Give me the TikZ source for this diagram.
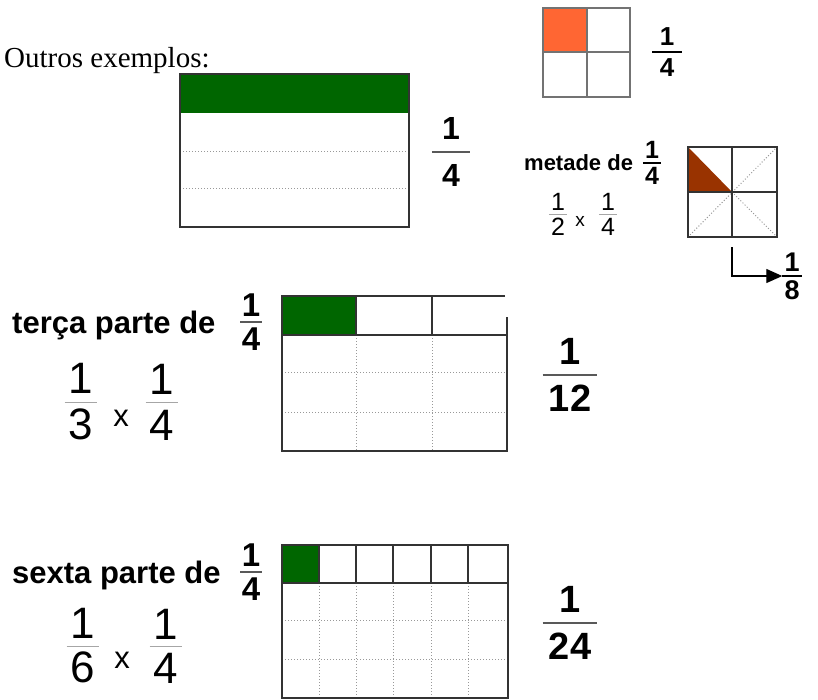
\documentclass[tikz,border=0pt]{standalone}
\usepackage{fontspec}
\setmainfont{Liberation Serif}
\setsansfont{Liberation Sans}
\usetikzlibrary{arrows.meta}
\definecolor{leafgreen}{HTML}{006600}
\definecolor{tileorange}{HTML}{FF6633}
\definecolor{rust}{HTML}{993300}
\tikzset{
  bfrac/.style 2 args={font=\sffamily\bfseries\fontsize{#1}{#2}\selectfont, align=center, inner ysep=0pt},
  rfrac/.style 2 args={font=\sffamily\fontsize{#1}{#2}\selectfont, align=center, inner ysep=0pt, inner xsep=4pt},
  words/.style={font=\sffamily\bfseries\fontsize{#1}{#1}\selectfont, anchor=base west, inner sep=0pt},
  times/.style={font=\sffamily\fontsize{#1}{#1}\selectfont, inner sep=0pt},
  fbar/.style={draw=black!65, line width=1.5pt},
  thinbar/.style={draw=gray!70, line width=1pt},
  cell/.style={draw=black!80, line width=1.6pt},
  softcell/.style={draw=black!55, line width=1.6pt},
  sub/.style={draw=gray!80, dotted, line width=1pt}
}
\begin{document}
\begin{tikzpicture}[x=1pt, y=-1pt]
  \useasboundingbox (0,0) rectangle (818,699);
  \node [anchor=base west, inner sep=0pt, font=\fontsize{29}{29}\selectfont] (title) at (4,67) {Outros exemplos:};

  \fill [tileorange] (543,8) rectangle (587,52);
  \draw [softcell] (543,8) rectangle (630,97);
  \draw [softcell] (587,8) -- (587,97);
  \draw [softcell] (543,52) -- (630,52);
  \node [bfrac={26}{31}, inner xsep=7.5pt] (q1) at (667,52) {1\\4};
  \draw [fbar, draw=black] (q1.west) -- (q1.east);

  \fill [leafgreen] (180,74) rectangle (409,113);
  \draw [sub] (180,151) -- (409,151);
  \draw [sub] (180,188) -- (409,188);
  \draw [cell] (180,74) rectangle (409,227);
  \node [bfrac={32}{47}, inner xsep=10pt] (g1) at (451,152) {1\\4};
  \draw [fbar] (g1.west) -- (g1.east);

  \node [words=22] (half) at (524,170) {metade de};
  \node [bfrac={25}{26}, inner xsep=2pt] (h1) at (652,163) {1\\4};
  \draw [fbar, draw=black] (h1.west) -- (h1.east);
  \node [rfrac={25}{25}, inner xsep=2pt] (h2) at (558,214) {1\\2};
  \draw [thinbar] (h2.west) -- (h2.east);
  \node [times=19] (hx) at (580,221) {x};
  \node [rfrac={25}{25}, inner xsep=2pt] (h3) at (608,214) {1\\4};
  \draw [thinbar] (h3.west) -- (h3.east);
  \fill [rust] (688,147) -- (688,192) -- (732,192) -- cycle;
  \draw [sub] (688,237) -- (777,147);
  \draw [sub] (732,192) -- (777,237);
  \draw [cell] (688,147) rectangle (777,237);
  \draw [cell] (732,147) -- (732,237);
  \draw [cell] (688,192) -- (777,192);
  \coordinate (drop) at (732,247);
  \node [bfrac={27}{28}, inner xsep=2pt] (e1) at (792,276) {1\\8};
  \draw [fbar, draw=black] (e1.west) -- (e1.east);
  \draw [black, line width=1.2pt, -{Triangle[length=16pt, width=14pt]}] (drop) |- (e1.west);

  \node [words=31] (third) at (12,333) {terça parte de};
  \node [bfrac={33}{34}, inner xsep=1.5pt] (t1) at (251,322) {1\\4};
  \draw [fbar] (t1.west) -- (t1.east);
  \node [rfrac={44}{46}] (t2) at (81,402) {1\\3};
  \draw [thinbar] (t2.west) -- (t2.east);
  \node [times=31] (tx) at (121,418) {x};
  \node [rfrac={44}{46}] (t3) at (162,402) {1\\4};
  \draw [thinbar] (t3.west) -- (t3.east);
  \fill [leafgreen] (282,296) rectangle (356,335);
  \draw [sub] (356,335) -- (356,451);
  \draw [sub] (432,335) -- (432,451);
  \draw [sub] (282,372) -- (507,372);
  \draw [sub] (282,412) -- (507,412);
  \draw [cell] (505,296) -- (282,296) -- (282,451) -- (507,451) -- (507,317);
  \draw [cell] (282,335) -- (507,335);
  \draw [cell] (356,296) -- (356,335);
  \draw [cell] (432,296) -- (432,335);
  \node [bfrac={38}{47}, inner xsep=6pt] (t4) at (570,375) {1\\12};
  \draw [fbar] (t4.west) -- (t4.east);

  \node [words=31] (sixth) at (12,583) {sexta parte de};
  \node [bfrac={33}{34}, inner xsep=1.5pt] (s1) at (251,572) {1\\4};
  \draw [fbar] (s1.west) -- (s1.east);
  \node [rfrac={44}{44}] (s2) at (83,646) {1\\6};
  \draw [thinbar] (s2.west) -- (s2.east);
  \node [times=31] (sx) at (122,660) {x};
  \node [rfrac={44}{44}] (s3) at (166,646) {1\\4};
  \draw [thinbar] (s3.west) -- (s3.east);
  \fill [leafgreen] (282,545) rectangle (319,583);
  \draw [sub] (319,583) -- (319,698);
  \draw [sub] (356,583) -- (356,698);
  \draw [sub] (393,583) -- (393,698);
  \draw [sub] (431,583) -- (431,698);
  \draw [sub] (468,583) -- (468,698);
  \draw [sub] (282,620) -- (508,620);
  \draw [sub] (282,659) -- (508,659);
  \draw [cell] (282,545) rectangle (508,698);
  \draw [cell] (282,583) -- (508,583);
  \draw [cell] (319,545) -- (319,583);
  \draw [cell] (356,545) -- (356,583);
  \draw [cell] (393,545) -- (393,583);
  \draw [cell] (431,545) -- (431,583);
  \draw [cell] (468,545) -- (468,583);
  \node [bfrac={38}{47}, inner xsep=6pt] (s4) at (570,623) {1\\24};
  \draw [fbar] (s4.west) -- (s4.east);
\end{tikzpicture}
\end{document}
